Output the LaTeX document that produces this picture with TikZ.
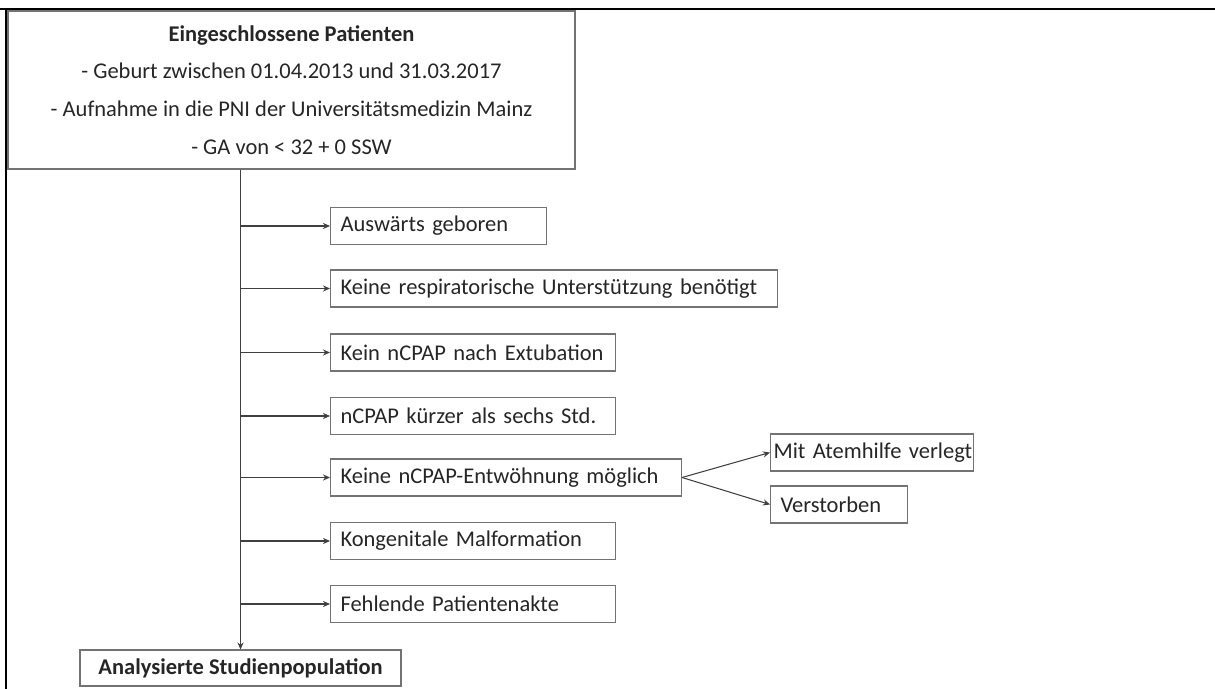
\documentclass[tikz,border=0pt]{standalone}
\usepackage{fontspec}
\setmainfont{Carlito}
\usetikzlibrary{arrows.meta,positioning}

\begin{document}
\begin{tikzpicture}[
    box/.style={draw=black!55, line width=0.6pt, text=black!85,
      font=\fontsize{12.8pt}{15pt}\selectfont},
    exbox/.style={box, anchor=west, inner xsep=0.2cm, inner ysep=0pt,
      minimum height=0.74cm, text width=#1, align=left},
    arr/.style={draw=black!75, line width=0.6pt,
      -{Stealth[length=4pt,width=3.5pt]}}
  ]
    \useasboundingbox (0,0) rectangle (24.3,-13.78);
    % outer frame
    \draw[line width=1.5pt] (0,-0.18) -- (24.3,-0.18);
    \draw[line width=1.5pt] (0.12,-0.18) -- (0.12,-13.78);
    % included patients
    \node[box, minimum width=11.34cm, minimum height=3.16cm, align=center,
      font=\fontsize{12.8pt}{21.5pt}\selectfont] (incl) at (5.83,-1.80)
      {\textbf{Eingeschlossene Patienten}\\
       - Geburt zwischen 01.04.2013 und 31.03.2017\\
       - Aufnahme in die PNI der Universitätsmedizin Mainz\\
       - GA von < 32 + 0 SSW};
    % analysed population
    \node[box, minimum width=6.42cm, minimum height=0.72cm, inner ysep=0pt]
      (ana) at (4.81,-13.36) {\textbf{Analysierte Studienpopulation}};
    % exclusions
    \node[exbox=3.92cm] (ext) at (6.60,-4.52) {Auswärts geboren};
    \node[exbox=8.54cm] (resp) at (6.60,-5.77) {Keine respiratorische Unterstützung benötigt};
    \node[exbox=5.30cm] (extub) at (6.60,-7.05) {Kein nCPAP nach Extubation};
    \node[exbox=5.30cm] (short) at (6.60,-8.32) {nCPAP kürzer als sechs Std.};
    \node[exbox=6.62cm] (wean) at (6.60,-9.55) {Keine nCPAP-Entwöhnung möglich};
    \node[exbox=5.30cm] (malf) at (6.60,-10.82) {Kongenitale Malformation};
    \node[exbox=5.30cm] (file) at (6.60,-12.08) {Fehlende Patientenakte};
    % weaning failures
    \node[exbox=3.94cm, inner xsep=0.06cm] (trans) at (15.40,-9.05) {\mbox{Mit Atemhilfe verlegt}};
    \node[exbox=2.34cm] (died) at (15.40,-10.09) {Verstorben};
    % main line
    \draw[arr] (incl.south -| ana.north) -- (ana.north);
    \foreach \b in {ext,resp,extub,short,wean,malf,file}
      \draw[arr] (ana.north |- \b.west) -- (\b.west);
    \draw[arr] (wean.east) -- (trans.west);
    \draw[arr] (wean.east) -- (died.west);
\end{tikzpicture}
\end{document}
